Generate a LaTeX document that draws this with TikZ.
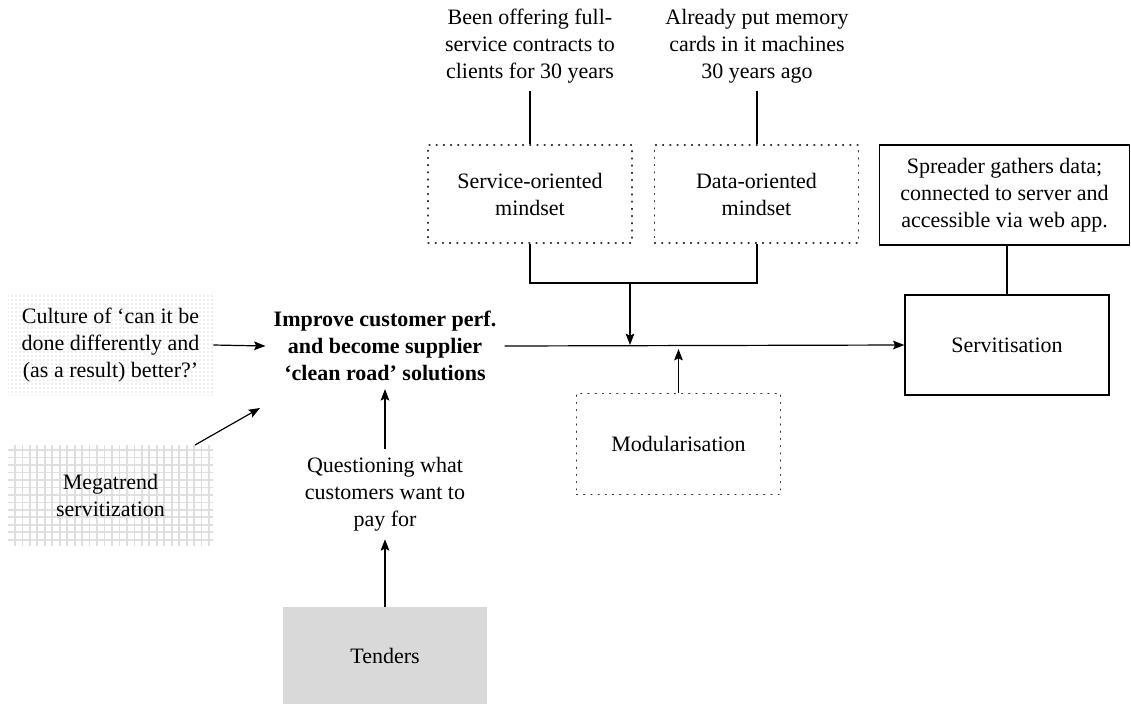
\documentclass[tikz,border=0pt]{standalone}
\usepackage{fontspec}
\setmainfont{Liberation Serif}
\usetikzlibrary{arrows.meta,patterns.meta,calc}
\begin{document}
\begin{tikzpicture}[x=0.75pt,y=-0.75pt,
  every node/.style={font=\fontsize{16.5}{20.25}\selectfont, align=center},
  dotbox/.style={draw=black!80, line width=0.8pt, dash pattern=on 0.8pt off 4.6pt, line cap=round, minimum width=153pt, minimum height=73.5pt, inner sep=0pt},
  solidbox/.style={draw=black, line width=0.9pt, minimum width=153pt, minimum height=75pt, inner sep=0pt},
  link/.style={draw=black, line width=0.9pt},
  arr/.style={link, -{Stealth[length=8.5pt,width=6.5pt,inset=1.5pt]}},
  plain/.style={inner sep=6pt}
]
\useasboundingbox (0,0) rectangle (1131,704);

% top texts
\node[plain] (t1) at (530,46) {Been offering full-\\service contracts to\\clients for 30 years};
\node[plain] (t2) at (757,46) {Already put memory\\cards in it machines\\30 years ago};

% mindset boxes
\node[dotbox] (som) at (530,194) {Service-oriented\\mindset};
\node[dotbox] (dom) at (756.5,194) {Data-oriented\\mindset};

% right side
\node[solidbox, minimum width=187.5pt] (spr) at (1004.5,195) {Spreader gathers data;\\connected to server and\\accessible via web app.};
\node[solidbox] (serv) at (1007,345) {Servitisation};

% central
\node[plain, font=\fontsize{16.5}{20.25}\selectfont\bfseries] (imp) at (385,346) {Improve customer perf.\\and become supplier\\‘clean road’ solutions};

% left boxes
\node[minimum width=153.75pt, minimum height=75pt, inner sep=0pt,
      pattern={Dots[distance=3pt,radius=0.5pt]}, pattern color=gray!55] (culbg) at (110.5,345) {};
\node[minimum width=153.75pt, minimum height=75pt, inner sep=0pt] (cul) at (110.5,345) {Culture of ‘can it be\\done differently and\\(as a result) better?’};

\node[minimum width=153.75pt, minimum height=75pt, inner sep=0pt,
      pattern={Hatch[distance=5.6pt,line width=1.3pt]}, pattern color=gray!25] (megbg) at (110.5,495) {};
\node[minimum width=153.75pt, minimum height=75pt, inner sep=0pt] (meg) at (110.5,495) {Megatrend\\servitization};

% modularisation
\node[dotbox, minimum height=76pt] (mod) at (678.5,444) {Modularisation};

% questioning and tenders
\node[plain] (q) at (385,494) {Questioning what\\customers want to\\pay for};
\node[fill=gray!30, minimum width=153pt, minimum height=72.75pt, inner sep=0pt] (ten) at (385,655.5) {Tenders};

% connectors
\draw[link] (t1.south) -- (som.north);
\draw[link] (t2.south) -- (t2.south |- dom.north);
\coordinate (j) at (630,283);
\draw[link] (som.south) -- (som.south |- j) -| (dom.south -| t2.south);
\draw[arr] (j) -- (j |- serv.west);
\draw[arr] (imp.east) -- (serv.west);
\draw[arr] (mod.north) -- ($(mod.north |- serv.west)+(0,4)$);
\draw[link] (serv.north |- spr.south) -- (serv.north);
\draw[arr] (cul.east) -- (imp.west);
\coordinate (megtail) at (195,445);
\coordinate (megtip) at (260,408);
\draw[arr] (megtail) -- (megtip);
\draw[arr] (q.north) -- (imp.south);
\draw[arr] (ten.north) -- (q.south);
\end{tikzpicture}
\end{document}
